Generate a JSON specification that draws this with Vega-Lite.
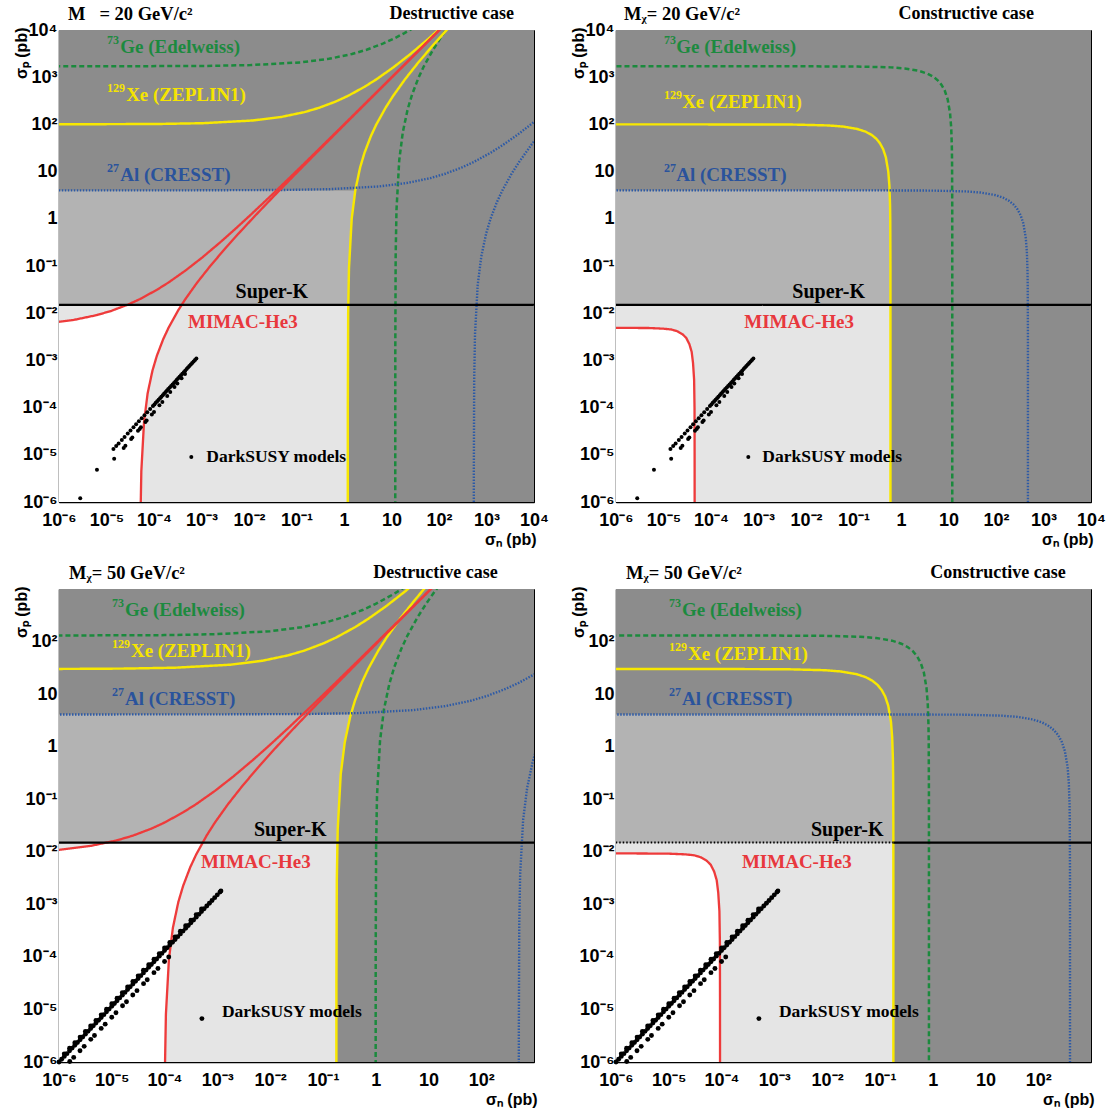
{
"$schema":"https://vega.github.io/schema/vega-lite/v6.json",
"padding":{"left":12,"top":4,"right":0,"bottom":0},
"background":"#ffffff",
"config":{"view":{"stroke":"#000000","strokeWidth":1},
"axis":{"domainColor":"#000000","domainWidth":1.5,"tickColor":"#000000","tickWidth":1,"labelFont":"Liberation Sans","labelFontWeight":"bold","labelFontSize":18,"labelColor":"#000000","titleFont":"Liberation Sans","titleFontWeight":"bold","titleFontSize":16,"titleColor":"#000000","grid":false,"labelOverlap":false,"labelFlush":false}},
"datasets":{
"shade":[
{"p":"TL","s":"dark","x":1e-6,"x2":1e4,"y":1e-6,"y2":1e4},
{"p":"TL","s":"light","x":1e-6,"x2":1.21,"y":1e-6,"y2":0.015},
{"p":"TR","s":"dark","x":1e-6,"x2":1e4,"y":1e-6,"y2":1e4},
{"p":"TR","s":"light","x":1e-6,"x2":0.6,"y":1e-6,"y2":0.015},
{"p":"BL","s":"dark","x":1e-6,"x2":1e3,"y":1e-6,"y2":1e3},
{"p":"BL","s":"light","x":1e-6,"x2":0.184,"y":1e-6,"y2":0.015},
{"p":"BR","s":"dark","x":1e-6,"x2":1e3,"y":1e-6,"y2":1e3},
{"p":"BR","s":"light","x":1e-6,"x2":0.18,"y":1e-6,"y2":0.015}],
"band":[
{"p":"TL","s":"mid","y":0.015,"x":1e-7,"x2":1.23},{"p":"TL","s":"mid","y":0.1,"x":1e-7,"x2":1.277},{"p":"TL","s":"mid","y":0.5,"x":1e-7,"x2":1.376},{"p":"TL","s":"mid","y":1,"x":1e-7,"x2":1.452},{"p":"TL","s":"mid","y":2,"x":1e-7,"x2":1.563},{"p":"TL","s":"mid","y":3,"x":1e-7,"x2":1.652},{"p":"TL","s":"mid","y":4,"x":1e-7,"x2":1.728},
{"p":"TL","s":"white","y":1e-7,"x":1e-7,"x2":5.146e-5},{"p":"TL","s":"white","y":1e-6,"x":1e-7,"x2":5.245e-5},{"p":"TL","s":"white","y":1e-5,"x":1e-7,"x2":5.566e-5},{"p":"TL","s":"white","y":5e-5,"x":1e-7,"x2":6.171e-5},{"p":"TL","s":"white","y":2e-4,"x":1e-7,"x2":7.344e-5},{"p":"TL","s":"white","y":6e-4,"x":1e-7,"x2":9.246e-5},{"p":"TL","s":"white","y":1.25e-3,"x":1e-7,"x2":1.1475e-4},{"p":"TL","s":"white","y":2.81e-3,"x":1e-7,"x2":1.562e-4},{"p":"TL","s":"white","y":5e-3,"x":1e-7,"x2":2.04e-4},{"p":"TL","s":"white","y":6e-3,"x":4.64e-7,"x2":2.239e-4},{"p":"TL","s":"white","y":7e-3,"x":1.71e-6,"x2":2.431e-4},{"p":"TL","s":"white","y":0.01,"x":8.75e-6,"x2":2.972e-4},{"p":"TL","s":"white","y":0.0125,"x":1.72e-5,"x2":3.398e-4},{"p":"TL","s":"white","y":0.015,"x":2.73e-5,"x2":3.807e-4},
{"p":"TR","s":"mid","y":0.015,"x":1e-7,"x2":0.5999},{"p":"TR","s":"mid","y":1,"x":1e-7,"x2":0.594},{"p":"TR","s":"mid","y":2,"x":1e-7,"x2":0.588},{"p":"TR","s":"mid","y":4,"x":1e-7,"x2":0.576},
{"p":"TR","s":"white","y":9.8e-8,"x":1e-7,"x2":4.53e-5},{"p":"TR","s":"white","y":9.8e-6,"x":1e-7,"x2":4.518e-5},{"p":"TR","s":"white","y":9.8e-5,"x":1e-7,"x2":4.5e-5},{"p":"TR","s":"white","y":3.9e-4,"x":1e-7,"x2":4.41e-5},{"p":"TR","s":"white","y":8.8e-4,"x":1e-7,"x2":4.185e-5},{"p":"TR","s":"white","y":1.52e-3,"x":1e-7,"x2":3.915e-5},{"p":"TR","s":"white","y":2.2e-3,"x":1e-7,"x2":3.51e-5},{"p":"TR","s":"white","y":2.99e-3,"x":1e-7,"x2":3.015e-5},{"p":"TR","s":"white","y":3.58e-3,"x":1e-7,"x2":2.52e-5},{"p":"TR","s":"white","y":4.12e-3,"x":1e-7,"x2":1.98e-5},{"p":"TR","s":"white","y":4.51e-3,"x":1e-7,"x2":1.485e-5},{"p":"TR","s":"white","y":4.7e-3,"x":1e-7,"x2":9.9e-6},{"p":"TR","s":"white","y":4.85e-3,"x":1e-7,"x2":4.95e-6},{"p":"TR","s":"white","y":4.9e-3,"x":1e-7,"x2":1e-6},
{"p":"BL","s":"mid","y":0.015,"x":1e-7,"x2":0.1881},{"p":"BL","s":"mid","y":0.1,"x":1e-7,"x2":0.2014},{"p":"BL","s":"mid","y":0.5,"x":1e-7,"x2":0.2295},{"p":"BL","s":"mid","y":1,"x":1e-7,"x2":0.2517},{"p":"BL","s":"mid","y":2,"x":1e-7,"x2":0.285},{"p":"BL","s":"mid","y":3,"x":1e-7,"x2":0.3119},{"p":"BL","s":"mid","y":4.1,"x":1e-7,"x2":0.3377},
{"p":"BL","s":"white","y":1e-7,"x":1e-7,"x2":1.0067e-4},{"p":"BL","s":"white","y":1e-6,"x":1e-7,"x2":1.0212e-4},{"p":"BL","s":"white","y":1e-5,"x":1e-7,"x2":1.0677e-4},{"p":"BL","s":"white","y":9e-5,"x":1e-7,"x2":1.21e-4},{"p":"BL","s":"white","y":3.6e-4,"x":1e-7,"x2":1.44e-4},{"p":"BL","s":"white","y":1.1e-3,"x":1e-7,"x2":1.8225e-4},{"p":"BL","s":"white","y":2.25e-3,"x":1e-7,"x2":2.25e-4},{"p":"BL","s":"white","y":5.06e-3,"x":1e-7,"x2":3.0625e-4},{"p":"BL","s":"white","y":9e-3,"x":1e-7,"x2":4e-4},{"p":"BL","s":"white","y":0.0105,"x":6.4e-7,"x2":4.327e-4},{"p":"BL","s":"white","y":0.012,"x":2.39e-6,"x2":4.643e-4},{"p":"BL","s":"white","y":0.0135,"x":5.05e-6,"x2":4.949e-4},{"p":"BL","s":"white","y":0.015,"x":8.47e-6,"x2":5.249e-4},
{"p":"BR","s":"mid","y":0.015,"x":1e-7,"x2":0.17991},{"p":"BR","s":"mid","y":1,"x":1e-7,"x2":0.174},{"p":"BR","s":"mid","y":2,"x":1e-7,"x2":0.168},{"p":"BR","s":"mid","y":4.1,"x":1e-7,"x2":0.1554},
{"p":"BR","s":"white","y":1.9e-7,"x":1e-7,"x2":9.37e-5},{"p":"BR","s":"white","y":1.9e-5,"x":1e-7,"x2":9.34e-5},{"p":"BR","s":"white","y":1.9e-4,"x":1e-7,"x2":9.3e-5},{"p":"BR","s":"white","y":7.4e-4,"x":1e-7,"x2":9.11e-5},{"p":"BR","s":"white","y":1.67e-3,"x":1e-7,"x2":8.65e-5},{"p":"BR","s":"white","y":2.88e-3,"x":1e-7,"x2":8.09e-5},{"p":"BR","s":"white","y":4.19e-3,"x":1e-7,"x2":7.25e-5},{"p":"BR","s":"white","y":5.67e-3,"x":1e-7,"x2":6.23e-5},{"p":"BR","s":"white","y":6.79e-3,"x":1e-7,"x2":5.2e-5},{"p":"BR","s":"white","y":7.81e-3,"x":1e-7,"x2":4.09e-5},{"p":"BR","s":"white","y":8.56e-3,"x":1e-7,"x2":3.07e-5},{"p":"BR","s":"white","y":8.93e-3,"x":1e-7,"x2":2.05e-5},{"p":"BR","s":"white","y":9.2e-3,"x":1e-7,"x2":1.02e-5},{"p":"BR","s":"white","y":9.3e-3,"x":1e-7,"x2":2e-6}],
"curve":[
{"p":"TL","c":"ge","b":"u","x":1.2e-7,"y":1700},{"p":"TL","c":"ge","b":"u","x":1.2e-5,"y":1703},{"p":"TL","c":"ge","b":"u","x":1.2e-3,"y":1734},{"p":"TL","c":"ge","b":"u","x":0.0108,"y":1804},{"p":"TL","c":"ge","b":"u","x":0.12,"y":2057},{"p":"TL","c":"ge","b":"u","x":0.48,"y":2448},{"p":"TL","c":"ge","b":"u","x":1.47,"y":3098},{"p":"TL","c":"ge","b":"u","x":3,"y":3825},{"p":"TL","c":"ge","b":"u","x":6.75,"y":5206},{"p":"TL","c":"ge","b":"u","x":12,"y":6800},{"p":"TL","c":"ge","b":"u","x":18.75,"y":8606},{"p":"TL","c":"ge","b":"u","x":27,"y":10625},
{"p":"TL","c":"ge","b":"r","x":12.0002,"y":1.7e-7},{"p":"TL","c":"ge","b":"r","x":12.0024,"y":1.7e-5},{"p":"TL","c":"ge","b":"r","x":12.024,"y":1.7e-3},{"p":"TL","c":"ge","b":"r","x":12.24,"y":0.17},{"p":"TL","c":"ge","b":"r","x":12.73,"y":1.53},{"p":"TL","c":"ge","b":"r","x":14.52,"y":17},{"p":"TL","c":"ge","b":"r","x":17.28,"y":68},{"p":"TL","c":"ge","b":"r","x":21.87,"y":208},{"p":"TL","c":"ge","b":"r","x":27,"y":425},{"p":"TL","c":"ge","b":"r","x":36.75,"y":956},{"p":"TL","c":"ge","b":"r","x":48,"y":1700},{"p":"TL","c":"ge","b":"r","x":75,"y":3825},{"p":"TL","c":"ge","b":"r","x":108,"y":6800},{"p":"TL","c":"ge","b":"r","x":147,"y":10625},
{"p":"TL","c":"xe","b":"u","x":3e-7,"y":100.1},{"p":"TL","c":"xe","b":"u","x":1.2e-4,"y":102},{"p":"TL","c":"xe","b":"u","x":1.08e-3,"y":106.1},{"p":"TL","c":"xe","b":"u","x":0.012,"y":121},{"p":"TL","c":"xe","b":"u","x":0.048,"y":144},{"p":"TL","c":"xe","b":"u","x":0.147,"y":182},{"p":"TL","c":"xe","b":"u","x":0.3,"y":225},{"p":"TL","c":"xe","b":"u","x":0.675,"y":306},{"p":"TL","c":"xe","b":"u","x":1.2,"y":400},{"p":"TL","c":"xe","b":"u","x":2.7,"y":625},{"p":"TL","c":"xe","b":"u","x":4.8,"y":900},{"p":"TL","c":"xe","b":"u","x":10.8,"y":1600},{"p":"TL","c":"xe","b":"u","x":24.3,"y":3025},{"p":"TL","c":"xe","b":"u","x":58.8,"y":6400},{"p":"TL","c":"xe","b":"u","x":120,"y":12100},
{"p":"TL","c":"xe","b":"r","x":1.20007,"y":9e-8},{"p":"TL","c":"xe","b":"r","x":1.2024,"y":1e-4},{"p":"TL","c":"xe","b":"r","x":1.2241,"y":0.01},{"p":"TL","c":"xe","b":"r","x":1.2731,"y":0.09},{"p":"TL","c":"xe","b":"r","x":1.452,"y":1},{"p":"TL","c":"xe","b":"r","x":1.728,"y":4},{"p":"TL","c":"xe","b":"r","x":2.187,"y":12.25},{"p":"TL","c":"xe","b":"r","x":2.7,"y":25},{"p":"TL","c":"xe","b":"r","x":3.675,"y":56.25},{"p":"TL","c":"xe","b":"r","x":4.8,"y":100},{"p":"TL","c":"xe","b":"r","x":7.5,"y":225},{"p":"TL","c":"xe","b":"r","x":10.8,"y":400},{"p":"TL","c":"xe","b":"r","x":19.2,"y":900},{"p":"TL","c":"xe","b":"r","x":36.3,"y":2025},{"p":"TL","c":"xe","b":"r","x":76.8,"y":4900},{"p":"TL","c":"xe","b":"r","x":145.2,"y":10000},{"p":"TL","c":"xe","b":"r","x":202.8,"y":14400},
{"p":"TL","c":"al","b":"u","x":5.4e-8,"y":4},{"p":"TL","c":"al","b":"u","x":5.4e-4,"y":4.008},{"p":"TL","c":"al","b":"u","x":0.054,"y":4.08},{"p":"TL","c":"al","b":"u","x":0.486,"y":4.24},{"p":"TL","c":"al","b":"u","x":5.4,"y":4.84},{"p":"TL","c":"al","b":"u","x":21.6,"y":5.76},{"p":"TL","c":"al","b":"u","x":66.2,"y":7.29},{"p":"TL","c":"al","b":"u","x":135,"y":9},{"p":"TL","c":"al","b":"u","x":304,"y":12.25},{"p":"TL","c":"al","b":"u","x":540,"y":16},{"p":"TL","c":"al","b":"u","x":1215,"y":25},{"p":"TL","c":"al","b":"u","x":2160,"y":36},{"p":"TL","c":"al","b":"u","x":4860,"y":64},{"p":"TL","c":"al","b":"u","x":10935,"y":121},
{"p":"TL","c":"al","b":"r","x":540.1,"y":4e-8},{"p":"TL","c":"al","b":"r","x":541.08,"y":4e-6},{"p":"TL","c":"al","b":"r","x":550.85,"y":4e-4},{"p":"TL","c":"al","b":"r","x":572.9,"y":3.6e-3},{"p":"TL","c":"al","b":"r","x":653.4,"y":0.04},{"p":"TL","c":"al","b":"r","x":777.6,"y":0.16},{"p":"TL","c":"al","b":"r","x":984.2,"y":0.49},{"p":"TL","c":"al","b":"r","x":1215,"y":1},{"p":"TL","c":"al","b":"r","x":1653.8,"y":2.25},{"p":"TL","c":"al","b":"r","x":2160,"y":4},{"p":"TL","c":"al","b":"r","x":3375,"y":9},{"p":"TL","c":"al","b":"r","x":4860,"y":16},{"p":"TL","c":"al","b":"r","x":8640,"y":36},{"p":"TL","c":"al","b":"r","x":10935,"y":49},
{"p":"TL","c":"he","b":"u","x":5.1e-9,"y":0.0051},{"p":"TL","c":"he","b":"u","x":5.1e-7,"y":0.00605},{"p":"TL","c":"he","b":"u","x":2.04e-6,"y":0.0072},{"p":"TL","c":"he","b":"u","x":6.25e-6,"y":0.00911},{"p":"TL","c":"he","b":"u","x":1.275e-5,"y":0.01125},{"p":"TL","c":"he","b":"u","x":2.87e-5,"y":0.0153},{"p":"TL","c":"he","b":"u","x":5.1e-5,"y":0.02},{"p":"TL","c":"he","b":"u","x":1.1475e-4,"y":0.03125},{"p":"TL","c":"he","b":"u","x":2.04e-4,"y":0.045},{"p":"TL","c":"he","b":"u","x":4.59e-4,"y":0.08},{"p":"TL","c":"he","b":"u","x":1.033e-3,"y":0.151},{"p":"TL","c":"he","b":"u","x":2.5e-3,"y":0.32},{"p":"TL","c":"he","b":"u","x":5.1e-3,"y":0.605},{"p":"TL","c":"he","b":"u","x":0.011475,"y":1.28},{"p":"TL","c":"he","b":"u","x":0.031875,"y":3.38},{"p":"TL","c":"he","b":"u","x":0.0816,"y":8.4},{"p":"TL","c":"he","b":"u","x":0.2499,"y":25.2},{"p":"TL","c":"he","b":"u","x":0.7344,"y":73.2},{"p":"TL","c":"he","b":"u","x":2.04,"y":202},{"p":"TL","c":"he","b":"u","x":6.2475,"y":616},{"p":"TL","c":"he","b":"u","x":18.36,"y":1806},{"p":"TL","c":"he","b":"u","x":51,"y":5010},{"p":"TL","c":"he","b":"u","x":114.75,"y":11275},
{"p":"TL","c":"he","b":"r","x":5.11e-5,"y":5e-9},{"p":"TL","c":"he","b":"r","x":5.2e-5,"y":5e-7},{"p":"TL","c":"he","b":"r","x":5.41e-5,"y":4.5e-6},{"p":"TL","c":"he","b":"r","x":6.17e-5,"y":5e-5},{"p":"TL","c":"he","b":"r","x":7.34e-5,"y":2e-4},{"p":"TL","c":"he","b":"r","x":9.29e-5,"y":6.1e-4},{"p":"TL","c":"he","b":"r","x":1.1475e-4,"y":1.25e-3},{"p":"TL","c":"he","b":"r","x":1.562e-4,"y":2.81e-3},{"p":"TL","c":"he","b":"r","x":2.04e-4,"y":5e-3},{"p":"TL","c":"he","b":"r","x":3.19e-4,"y":0.01125},{"p":"TL","c":"he","b":"r","x":4.59e-4,"y":0.02},{"p":"TL","c":"he","b":"r","x":8.16e-4,"y":0.045},{"p":"TL","c":"he","b":"r","x":1.543e-3,"y":0.101},{"p":"TL","c":"he","b":"r","x":3.264e-3,"y":0.245},{"p":"TL","c":"he","b":"r","x":6.171e-3,"y":0.5},{"p":"TL","c":"he","b":"r","x":0.013056,"y":1.125},{"p":"TL","c":"he","b":"r","x":0.034476,"y":3.125},{"p":"TL","c":"he","b":"r","x":0.085731,"y":8},{"p":"TL","c":"he","b":"r","x":0.25709,"y":24.5},{"p":"TL","c":"he","b":"r","x":0.74669,"y":72},{"p":"TL","c":"he","b":"r","x":2.0604,"y":200},{"p":"TL","c":"he","b":"r","x":6.283,"y":612.5},{"p":"TL","c":"he","b":"r","x":18.42,"y":1800},{"p":"TL","c":"he","b":"r","x":51.1,"y":5000},{"p":"TL","c":"he","b":"r","x":114.9,"y":11250},
{"p":"TL","c":"sk","b":"s","x":1e-7,"y":0.015},{"p":"TL","c":"sk","b":"s","x":1e5,"y":0.015},
{"p":"TR","c":"ge","b":"c","x":1e-7,"y":1700},{"p":"TR","c":"ge","b":"c","x":1.2e-3,"y":1699.8},{"p":"TR","c":"ge","b":"c","x":0.012,"y":1698.3},{"p":"TR","c":"ge","b":"c","x":0.12,"y":1683},{"p":"TR","c":"ge","b":"c","x":0.6,"y":1615},{"p":"TR","c":"ge","b":"c","x":1.2,"y":1530},{"p":"TR","c":"ge","b":"c","x":2.4,"y":1360},{"p":"TR","c":"ge","b":"c","x":3.6,"y":1190},{"p":"TR","c":"ge","b":"c","x":4.8,"y":1020},{"p":"TR","c":"ge","b":"c","x":6,"y":850},{"p":"TR","c":"ge","b":"c","x":7.2,"y":680},{"p":"TR","c":"ge","b":"c","x":8.4,"y":510},{"p":"TR","c":"ge","b":"c","x":9.6,"y":340},{"p":"TR","c":"ge","b":"c","x":10.8,"y":170},{"p":"TR","c":"ge","b":"c","x":11.4,"y":85},{"p":"TR","c":"ge","b":"c","x":11.76,"y":34},{"p":"TR","c":"ge","b":"c","x":11.88,"y":17},{"p":"TR","c":"ge","b":"c","x":11.988,"y":1.7},{"p":"TR","c":"ge","b":"c","x":11.9988,"y":0.17},{"p":"TR","c":"ge","b":"c","x":12,"y":1e-8},
{"p":"TR","c":"xe","b":"c","x":1e-7,"y":100},{"p":"TR","c":"xe","b":"c","x":6e-5,"y":99.99},{"p":"TR","c":"xe","b":"c","x":6e-4,"y":99.9},{"p":"TR","c":"xe","b":"c","x":6e-3,"y":99},{"p":"TR","c":"xe","b":"c","x":0.03,"y":95},{"p":"TR","c":"xe","b":"c","x":0.06,"y":90},{"p":"TR","c":"xe","b":"c","x":0.12,"y":80},{"p":"TR","c":"xe","b":"c","x":0.18,"y":70},{"p":"TR","c":"xe","b":"c","x":0.24,"y":60},{"p":"TR","c":"xe","b":"c","x":0.3,"y":50},{"p":"TR","c":"xe","b":"c","x":0.36,"y":40},{"p":"TR","c":"xe","b":"c","x":0.42,"y":30},{"p":"TR","c":"xe","b":"c","x":0.48,"y":20},{"p":"TR","c":"xe","b":"c","x":0.54,"y":10},{"p":"TR","c":"xe","b":"c","x":0.57,"y":5},{"p":"TR","c":"xe","b":"c","x":0.588,"y":2},{"p":"TR","c":"xe","b":"c","x":0.594,"y":1},{"p":"TR","c":"xe","b":"c","x":0.5994,"y":0.1},{"p":"TR","c":"xe","b":"c","x":0.59994,"y":0.01},{"p":"TR","c":"xe","b":"c","x":0.6,"y":1e-8},
{"p":"TR","c":"al","b":"c","x":1e-7,"y":4},{"p":"TR","c":"al","b":"c","x":0.047,"y":3.9996},{"p":"TR","c":"al","b":"c","x":0.47,"y":3.996},{"p":"TR","c":"al","b":"c","x":4.7,"y":3.96},{"p":"TR","c":"al","b":"c","x":23.5,"y":3.8},{"p":"TR","c":"al","b":"c","x":47,"y":3.6},{"p":"TR","c":"al","b":"c","x":94,"y":3.2},{"p":"TR","c":"al","b":"c","x":141,"y":2.8},{"p":"TR","c":"al","b":"c","x":188,"y":2.4},{"p":"TR","c":"al","b":"c","x":235,"y":2},{"p":"TR","c":"al","b":"c","x":282,"y":1.6},{"p":"TR","c":"al","b":"c","x":329,"y":1.2},{"p":"TR","c":"al","b":"c","x":376,"y":0.8},{"p":"TR","c":"al","b":"c","x":423,"y":0.4},{"p":"TR","c":"al","b":"c","x":446.5,"y":0.2},{"p":"TR","c":"al","b":"c","x":460.6,"y":0.08},{"p":"TR","c":"al","b":"c","x":465.3,"y":0.04},{"p":"TR","c":"al","b":"c","x":469.53,"y":4e-3},{"p":"TR","c":"al","b":"c","x":469.953,"y":4e-4},{"p":"TR","c":"al","b":"c","x":470,"y":1e-8},
{"p":"TR","c":"he","b":"c","x":1e-7,"y":0.0049},{"p":"TR","c":"he","b":"c","x":1e-6,"y":0.0049},{"p":"TR","c":"he","b":"c","x":4.95e-6,"y":0.00485},{"p":"TR","c":"he","b":"c","x":9.9e-6,"y":0.0047},{"p":"TR","c":"he","b":"c","x":1.485e-5,"y":0.00451},{"p":"TR","c":"he","b":"c","x":1.98e-5,"y":0.00412},{"p":"TR","c":"he","b":"c","x":2.52e-5,"y":0.00358},{"p":"TR","c":"he","b":"c","x":3.015e-5,"y":0.00299},{"p":"TR","c":"he","b":"c","x":3.51e-5,"y":0.0022},{"p":"TR","c":"he","b":"c","x":3.915e-5,"y":0.00152},{"p":"TR","c":"he","b":"c","x":4.185e-5,"y":8.8e-4},{"p":"TR","c":"he","b":"c","x":4.41e-5,"y":3.9e-4},{"p":"TR","c":"he","b":"c","x":4.5e-5,"y":9.8e-5},{"p":"TR","c":"he","b":"c","x":4.518e-5,"y":9.8e-6},{"p":"TR","c":"he","b":"c","x":4.53e-5,"y":9.8e-8},
{"p":"TR","c":"sk","b":"s","x":1e-7,"y":0.015},{"p":"TR","c":"sk","b":"s","x":1e5,"y":0.015},
{"p":"BL","c":"ge","b":"u","x":1e-8,"y":130.03},{"p":"BL","c":"ge","b":"u","x":1e-6,"y":130.26},{"p":"BL","c":"ge","b":"u","x":1e-4,"y":132.6},{"p":"BL","c":"ge","b":"u","x":9e-4,"y":137.9},{"p":"BL","c":"ge","b":"u","x":0.01,"y":157.3},{"p":"BL","c":"ge","b":"u","x":0.04,"y":187.2},{"p":"BL","c":"ge","b":"u","x":0.1225,"y":236.9},{"p":"BL","c":"ge","b":"u","x":0.25,"y":292.5},{"p":"BL","c":"ge","b":"u","x":0.5625,"y":398.1},{"p":"BL","c":"ge","b":"u","x":1,"y":520},{"p":"BL","c":"ge","b":"u","x":2.25,"y":812.5},{"p":"BL","c":"ge","b":"u","x":4,"y":1170},
{"p":"BL","c":"ge","b":"r","x":1.00002,"y":1.3e-8},{"p":"BL","c":"ge","b":"r","x":1.0002,"y":1.3e-6},{"p":"BL","c":"ge","b":"r","x":1.002,"y":1.3e-4},{"p":"BL","c":"ge","b":"r","x":1.0201,"y":0.013},{"p":"BL","c":"ge","b":"r","x":1.0609,"y":0.117},{"p":"BL","c":"ge","b":"r","x":1.21,"y":1.3},{"p":"BL","c":"ge","b":"r","x":1.44,"y":5.2},{"p":"BL","c":"ge","b":"r","x":1.8225,"y":15.9},{"p":"BL","c":"ge","b":"r","x":2.25,"y":32.5},{"p":"BL","c":"ge","b":"r","x":3.0625,"y":73.1},{"p":"BL","c":"ge","b":"r","x":4,"y":130},{"p":"BL","c":"ge","b":"r","x":6.25,"y":292.5},{"p":"BL","c":"ge","b":"r","x":9,"y":520},{"p":"BL","c":"ge","b":"r","x":12.25,"y":812.5},{"p":"BL","c":"ge","b":"r","x":16,"y":1170},
{"p":"BL","c":"xe","b":"u","x":1.8e-9,"y":30.006},{"p":"BL","c":"xe","b":"u","x":1.62e-6,"y":30.18},{"p":"BL","c":"xe","b":"u","x":1.8e-5,"y":30.6},{"p":"BL","c":"xe","b":"u","x":1.62e-4,"y":31.83},{"p":"BL","c":"xe","b":"u","x":1.8e-3,"y":36.3},{"p":"BL","c":"xe","b":"u","x":7.2e-3,"y":43.2},{"p":"BL","c":"xe","b":"u","x":0.02205,"y":54.7},{"p":"BL","c":"xe","b":"u","x":0.045,"y":67.5},{"p":"BL","c":"xe","b":"u","x":0.10125,"y":91.9},{"p":"BL","c":"xe","b":"u","x":0.18,"y":120},{"p":"BL","c":"xe","b":"u","x":0.405,"y":187.5},{"p":"BL","c":"xe","b":"u","x":0.72,"y":270},{"p":"BL","c":"xe","b":"u","x":1.62,"y":480},{"p":"BL","c":"xe","b":"u","x":3.645,"y":907.5},{"p":"BL","c":"xe","b":"u","x":4.5,"y":1080},
{"p":"BL","c":"xe","b":"r","x":0.180004,"y":3e-9},{"p":"BL","c":"xe","b":"r","x":0.180036,"y":3e-7},{"p":"BL","c":"xe","b":"r","x":0.18036,"y":3e-5},{"p":"BL","c":"xe","b":"r","x":0.18362,"y":3e-3},{"p":"BL","c":"xe","b":"r","x":0.19096,"y":0.027},{"p":"BL","c":"xe","b":"r","x":0.2178,"y":0.3},{"p":"BL","c":"xe","b":"r","x":0.2592,"y":1.2},{"p":"BL","c":"xe","b":"r","x":0.32805,"y":3.675},{"p":"BL","c":"xe","b":"r","x":0.405,"y":7.5},{"p":"BL","c":"xe","b":"r","x":0.55125,"y":16.9},{"p":"BL","c":"xe","b":"r","x":0.72,"y":30},{"p":"BL","c":"xe","b":"r","x":1.125,"y":67.5},{"p":"BL","c":"xe","b":"r","x":1.62,"y":120},{"p":"BL","c":"xe","b":"r","x":2.88,"y":270},{"p":"BL","c":"xe","b":"r","x":5.445,"y":607.5},{"p":"BL","c":"xe","b":"r","x":8.82,"y":1080},
{"p":"BL","c":"al","b":"u","x":5.15e-8,"y":4.1},{"p":"BL","c":"al","b":"u","x":5.15e-4,"y":4.108},{"p":"BL","c":"al","b":"u","x":0.0515,"y":4.182},{"p":"BL","c":"al","b":"u","x":0.4635,"y":4.35},{"p":"BL","c":"al","b":"u","x":5.15,"y":4.961},{"p":"BL","c":"al","b":"u","x":20.6,"y":5.904},{"p":"BL","c":"al","b":"u","x":63.1,"y":7.47},{"p":"BL","c":"al","b":"u","x":128.75,"y":9.225},{"p":"BL","c":"al","b":"u","x":289.7,"y":12.56},{"p":"BL","c":"al","b":"u","x":515,"y":16.4},{"p":"BL","c":"al","b":"u","x":1158.75,"y":25.6},
{"p":"BL","c":"al","b":"r","x":515.1,"y":4.1e-8},{"p":"BL","c":"al","b":"r","x":516.03,"y":4.1e-6},{"p":"BL","c":"al","b":"r","x":525.35,"y":4.1e-4},{"p":"BL","c":"al","b":"r","x":546.4,"y":3.69e-3},{"p":"BL","c":"al","b":"r","x":623.2,"y":0.041},{"p":"BL","c":"al","b":"r","x":741.6,"y":0.164},{"p":"BL","c":"al","b":"r","x":938.6,"y":0.502},{"p":"BL","c":"al","b":"r","x":1158.75,"y":1.025},
{"p":"BL","c":"he","b":"u","x":1e-8,"y":0.00918},{"p":"BL","c":"he","b":"u","x":1e-6,"y":0.01089},{"p":"BL","c":"he","b":"u","x":4e-6,"y":0.01296},{"p":"BL","c":"he","b":"u","x":1.225e-5,"y":0.0164},{"p":"BL","c":"he","b":"u","x":2.5e-5,"y":0.02025},{"p":"BL","c":"he","b":"u","x":5.625e-5,"y":0.02756},{"p":"BL","c":"he","b":"u","x":1e-4,"y":0.036},{"p":"BL","c":"he","b":"u","x":2.25e-4,"y":0.05625},{"p":"BL","c":"he","b":"u","x":4e-4,"y":0.081},{"p":"BL","c":"he","b":"u","x":9e-4,"y":0.144},{"p":"BL","c":"he","b":"u","x":2.025e-3,"y":0.2723},{"p":"BL","c":"he","b":"u","x":4.9e-3,"y":0.576},{"p":"BL","c":"he","b":"u","x":0.01,"y":1.089},{"p":"BL","c":"he","b":"u","x":0.0225,"y":2.304},{"p":"BL","c":"he","b":"u","x":0.0625,"y":6.084},{"p":"BL","c":"he","b":"u","x":0.16,"y":15.13},{"p":"BL","c":"he","b":"u","x":0.49,"y":45.37},{"p":"BL","c":"he","b":"u","x":1.44,"y":131.8},{"p":"BL","c":"he","b":"u","x":4,"y":363.6},{"p":"BL","c":"he","b":"u","x":9,"y":814.5},{"p":"BL","c":"he","b":"u","x":12.25,"y":1109},
{"p":"BL","c":"he","b":"r","x":1.002e-4,"y":9e-9},{"p":"BL","c":"he","b":"r","x":1.0201e-4,"y":9e-7},{"p":"BL","c":"he","b":"r","x":1.0609e-4,"y":8.1e-6},{"p":"BL","c":"he","b":"r","x":1.21e-4,"y":9e-5},{"p":"BL","c":"he","b":"r","x":1.44e-4,"y":3.6e-4},{"p":"BL","c":"he","b":"r","x":1.8225e-4,"y":1.1025e-3},{"p":"BL","c":"he","b":"r","x":2.25e-4,"y":2.25e-3},{"p":"BL","c":"he","b":"r","x":3.0625e-4,"y":5.0625e-3},{"p":"BL","c":"he","b":"r","x":4e-4,"y":0.009},{"p":"BL","c":"he","b":"r","x":6.25e-4,"y":0.02025},{"p":"BL","c":"he","b":"r","x":9e-4,"y":0.036},{"p":"BL","c":"he","b":"r","x":1.6e-3,"y":0.081},{"p":"BL","c":"he","b":"r","x":3.025e-3,"y":0.18225},{"p":"BL","c":"he","b":"r","x":6.4e-3,"y":0.441},{"p":"BL","c":"he","b":"r","x":0.0121,"y":0.9},{"p":"BL","c":"he","b":"r","x":0.0256,"y":2.025},{"p":"BL","c":"he","b":"r","x":0.0676,"y":5.625},{"p":"BL","c":"he","b":"r","x":0.1681,"y":14.4},{"p":"BL","c":"he","b":"r","x":0.5041,"y":44.1},{"p":"BL","c":"he","b":"r","x":1.4641,"y":129.6},{"p":"BL","c":"he","b":"r","x":4.0401,"y":360},{"p":"BL","c":"he","b":"r","x":9.0601,"y":810},{"p":"BL","c":"he","b":"r","x":12.3201,"y":1102.5},
{"p":"BL","c":"sk","b":"s","x":1e-7,"y":0.015},{"p":"BL","c":"sk","b":"s","x":1e5,"y":0.015},
{"p":"BR","c":"ge","b":"c","x":1e-7,"y":130},{"p":"BR","c":"ge","b":"c","x":8.5e-5,"y":129.99},{"p":"BR","c":"ge","b":"c","x":8.5e-4,"y":129.87},{"p":"BR","c":"ge","b":"c","x":8.5e-3,"y":128.7},{"p":"BR","c":"ge","b":"c","x":0.0425,"y":123.5},{"p":"BR","c":"ge","b":"c","x":0.085,"y":117},{"p":"BR","c":"ge","b":"c","x":0.17,"y":104},{"p":"BR","c":"ge","b":"c","x":0.255,"y":91},{"p":"BR","c":"ge","b":"c","x":0.34,"y":78},{"p":"BR","c":"ge","b":"c","x":0.425,"y":65},{"p":"BR","c":"ge","b":"c","x":0.51,"y":52},{"p":"BR","c":"ge","b":"c","x":0.595,"y":39},{"p":"BR","c":"ge","b":"c","x":0.68,"y":26},{"p":"BR","c":"ge","b":"c","x":0.765,"y":13},{"p":"BR","c":"ge","b":"c","x":0.8075,"y":6.5},{"p":"BR","c":"ge","b":"c","x":0.833,"y":2.6},{"p":"BR","c":"ge","b":"c","x":0.8415,"y":1.3},{"p":"BR","c":"ge","b":"c","x":0.84915,"y":0.13},{"p":"BR","c":"ge","b":"c","x":0.849915,"y":0.013},{"p":"BR","c":"ge","b":"c","x":0.85,"y":1e-8},
{"p":"BR","c":"xe","b":"c","x":1e-7,"y":30},{"p":"BR","c":"xe","b":"c","x":1.8e-5,"y":29.997},{"p":"BR","c":"xe","b":"c","x":1.8e-4,"y":29.97},{"p":"BR","c":"xe","b":"c","x":1.8e-3,"y":29.7},{"p":"BR","c":"xe","b":"c","x":9e-3,"y":28.5},{"p":"BR","c":"xe","b":"c","x":0.018,"y":27},{"p":"BR","c":"xe","b":"c","x":0.036,"y":24},{"p":"BR","c":"xe","b":"c","x":0.054,"y":21},{"p":"BR","c":"xe","b":"c","x":0.072,"y":18},{"p":"BR","c":"xe","b":"c","x":0.09,"y":15},{"p":"BR","c":"xe","b":"c","x":0.108,"y":12},{"p":"BR","c":"xe","b":"c","x":0.126,"y":9},{"p":"BR","c":"xe","b":"c","x":0.144,"y":6},{"p":"BR","c":"xe","b":"c","x":0.162,"y":3},{"p":"BR","c":"xe","b":"c","x":0.171,"y":1.5},{"p":"BR","c":"xe","b":"c","x":0.1764,"y":0.6},{"p":"BR","c":"xe","b":"c","x":0.1782,"y":0.3},{"p":"BR","c":"xe","b":"c","x":0.17982,"y":0.03},{"p":"BR","c":"xe","b":"c","x":0.179982,"y":3e-3},{"p":"BR","c":"xe","b":"c","x":0.18,"y":1e-8},
{"p":"BR","c":"al","b":"c","x":1e-7,"y":4.1},{"p":"BR","c":"al","b":"c","x":0.04,"y":4.0996},{"p":"BR","c":"al","b":"c","x":0.4,"y":4.0959},{"p":"BR","c":"al","b":"c","x":4,"y":4.059},{"p":"BR","c":"al","b":"c","x":20,"y":3.895},{"p":"BR","c":"al","b":"c","x":40,"y":3.69},{"p":"BR","c":"al","b":"c","x":80,"y":3.28},{"p":"BR","c":"al","b":"c","x":120,"y":2.87},{"p":"BR","c":"al","b":"c","x":160,"y":2.46},{"p":"BR","c":"al","b":"c","x":200,"y":2.05},{"p":"BR","c":"al","b":"c","x":240,"y":1.64},{"p":"BR","c":"al","b":"c","x":280,"y":1.23},{"p":"BR","c":"al","b":"c","x":320,"y":0.82},{"p":"BR","c":"al","b":"c","x":360,"y":0.41},{"p":"BR","c":"al","b":"c","x":380,"y":0.205},{"p":"BR","c":"al","b":"c","x":392,"y":0.082},{"p":"BR","c":"al","b":"c","x":396,"y":0.041},{"p":"BR","c":"al","b":"c","x":399.6,"y":4.1e-3},{"p":"BR","c":"al","b":"c","x":399.96,"y":4.1e-4},{"p":"BR","c":"al","b":"c","x":400,"y":1e-8},
{"p":"BR","c":"he","b":"c","x":2e-7,"y":0.0093},{"p":"BR","c":"he","b":"c","x":2e-6,"y":0.0093},{"p":"BR","c":"he","b":"c","x":1.02e-5,"y":0.0092},{"p":"BR","c":"he","b":"c","x":2.05e-5,"y":0.00893},{"p":"BR","c":"he","b":"c","x":3.07e-5,"y":0.00856},{"p":"BR","c":"he","b":"c","x":4.09e-5,"y":0.00781},{"p":"BR","c":"he","b":"c","x":5.2e-5,"y":0.00679},{"p":"BR","c":"he","b":"c","x":6.23e-5,"y":0.00567},{"p":"BR","c":"he","b":"c","x":7.25e-5,"y":0.00419},{"p":"BR","c":"he","b":"c","x":8.09e-5,"y":0.00288},{"p":"BR","c":"he","b":"c","x":8.65e-5,"y":0.00167},{"p":"BR","c":"he","b":"c","x":9.11e-5,"y":7.4e-4},{"p":"BR","c":"he","b":"c","x":9.3e-5,"y":1.9e-4},{"p":"BR","c":"he","b":"c","x":9.34e-5,"y":1.9e-5},{"p":"BR","c":"he","b":"c","x":9.37e-5,"y":1.9e-7},
{"p":"BR","c":"skd","b":"d","x":1e-7,"y":0.015},{"p":"BR","c":"skd","b":"d","x":0.18,"y":0.015},
{"p":"BR","c":"sk","b":"s","x":0.18,"y":0.015},{"p":"BR","c":"sk","b":"s","x":1e5,"y":0.015}],
"pts":[
{"g":"20","x":1.4e-5,"y":1.32e-5},{"g":"20","x":1.6e-5,"y":1.53e-5},{"g":"20","x":1.8e-5,"y":1.74e-5},{"g":"20","x":2.1e-5,"y":2.06e-5},{"g":"20","x":2.4e-5,"y":2.39e-5},{"g":"20","x":2.8e-5,"y":2.83e-5},{"g":"20","x":3.2e-5,"y":3.28e-5},{"g":"20","x":3.7e-5,"y":3.85e-5},{"g":"20","x":4.2e-5,"y":4.42e-5},{"g":"20","x":4.8e-5,"y":5.12e-5},{"g":"20","x":5.5e-5,"y":5.95e-5},{"g":"20","x":6.3e-5,"y":6.91e-5},{"g":"20","x":7.2e-5,"y":8.0e-5},{"g":"20","x":8.3e-5,"y":9.36e-5},{"g":"20","x":9.5e-5,"y":1.085e-4},{"g":"20","x":1.02e-4,"y":1.17e-4},{"g":"20","x":1.09e-4,"y":1.262e-4},{"g":"20","x":1.17e-4,"y":1.36e-4},{"g":"20","x":1.25e-4,"y":1.468e-4},{"g":"20","x":1.34e-4,"y":1.58e-4},{"g":"20","x":1.43e-4,"y":1.702e-4},{"g":"20","x":1.53e-4,"y":1.83e-4},{"g":"20","x":1.64e-4,"y":1.98e-4},{"g":"20","x":1.76e-4,"y":2.14e-4},{"g":"20","x":1.88e-4,"y":2.3e-4},{"g":"20","x":2.0e-4,"y":2.47e-4},{"g":"20","x":2.15e-4,"y":2.67e-4},{"g":"20","x":2.3e-4,"y":2.88e-4},{"g":"20","x":2.46e-4,"y":3.09e-4},{"g":"20","x":2.64e-4,"y":3.34e-4},{"g":"20","x":2.82e-4,"y":3.59e-4},{"g":"20","x":3.02e-4,"y":3.87e-4},{"g":"20","x":3.23e-4,"y":4.17e-4},{"g":"20","x":3.46e-4,"y":4.5e-4},{"g":"20","x":3.7e-4,"y":4.84e-4},{"g":"20","x":3.96e-4,"y":5.21e-4},{"g":"20","x":4.24e-4,"y":5.62e-4},{"g":"20","x":4.54e-4,"y":6.05e-4},{"g":"20","x":4.86e-4,"y":6.54e-4},{"g":"20","x":5.2e-4,"y":7.04e-4},{"g":"20","x":5.56e-4,"y":7.58e-4},{"g":"20","x":5.96e-4,"y":8.17e-4},{"g":"20","x":6.37e-4,"y":8.8e-4},{"g":"20","x":6.82e-4,"y":9.5e-4},{"g":"20","x":7.3e-4,"y":1.023e-3},{"g":"20","x":7.8e-4,"y":1.1e-3},
{"g":"20","x":1.45e-5,"y":8.2e-6},{"g":"20","x":2.3e-5,"y":1.4e-5},{"g":"20","x":2.5e-5,"y":1.55e-5},{"g":"20","x":3.3e-5,"y":2.17e-5},{"g":"20","x":3.5e-5,"y":2.32e-5},{"g":"20","x":4.6e-5,"y":3.23e-5},{"g":"20","x":5.0e-5,"y":3.54e-5},{"g":"20","x":5.3e-5,"y":3.83e-5},{"g":"20","x":6.6e-5,"y":4.93e-5},{"g":"20","x":7e-5,"y":5.33e-5},{"g":"20","x":9e-5,"y":7.14e-5},{"g":"20","x":1.0e-4,"y":8.1e-5},{"g":"20","x":1.3e-4,"y":1.12e-4},{"g":"20","x":1.5e-4,"y":1.32e-4},{"g":"20","x":1.9e-4,"y":1.77e-4},{"g":"20","x":2.2e-4,"y":2.14e-4},{"g":"20","x":2.7e-4,"y":2.74e-4},{"g":"20","x":3.1e-4,"y":3.25e-4},{"g":"20","x":3.8e-4,"y":4.18e-4},{"g":"20","x":4.5e-4,"y":5.15e-4},
{"g":"20","x":6.3e-6,"y":4.8e-6},{"g":"20","x":2.8e-6,"y":1.2e-6},{"g":"20","x":6.1e-4,"y":9e-6},
{"g":"50","x":1.0e-6,"y":1.0e-6},{"g":"50","x":1.122e-6,"y":1.13e-6},{"g":"50","x":1.259e-6,"y":1.277e-6},{"g":"50","x":1.413e-6,"y":1.443e-6},{"g":"50","x":1.585e-6,"y":1.629e-6},{"g":"50","x":1.778e-6,"y":1.84e-6},{"g":"50","x":1.995e-6,"y":2.079e-6},{"g":"50","x":2.239e-6,"y":2.35e-6},{"g":"50","x":2.512e-6,"y":2.655e-6},{"g":"50","x":2.818e-6,"y":2.998e-6},{"g":"50","x":3.162e-6,"y":3.39e-6},{"g":"50","x":3.548e-6,"y":3.828e-6},{"g":"50","x":3.981e-6,"y":4.323e-6},{"g":"50","x":4.467e-6,"y":4.887e-6},{"g":"50","x":5.012e-6,"y":5.523e-6},{"g":"50","x":5.623e-6,"y":6.236e-6},{"g":"50","x":6.31e-6,"y":7.048e-6},{"g":"50","x":7.079e-6,"y":7.964e-6},{"g":"50","x":7.943e-6,"y":8.992e-6},{"g":"50","x":8.913e-6,"y":1.016e-5},
{"g":"50","x":1e-5,"y":1.148e-5},{"g":"50","x":1.122e-5,"y":1.297e-5},{"g":"50","x":1.259e-5,"y":1.466e-5},{"g":"50","x":1.413e-5,"y":1.657e-5},{"g":"50","x":1.585e-5,"y":1.87e-5},{"g":"50","x":1.778e-5,"y":2.112e-5},{"g":"50","x":1.995e-5,"y":2.387e-5},{"g":"50","x":2.239e-5,"y":2.698e-5},{"g":"50","x":2.512e-5,"y":3.048e-5},{"g":"50","x":2.818e-5,"y":3.442e-5},{"g":"50","x":3.162e-5,"y":3.892e-5},{"g":"50","x":3.548e-5,"y":4.395e-5},{"g":"50","x":3.981e-5,"y":4.963e-5},{"g":"50","x":4.467e-5,"y":5.61e-5},{"g":"50","x":5.012e-5,"y":6.34e-5},{"g":"50","x":5.623e-5,"y":7.159e-5},{"g":"50","x":6.31e-5,"y":8.091e-5},{"g":"50","x":7.079e-5,"y":9.143e-5},{"g":"50","x":7.943e-5,"y":1.032e-4},{"g":"50","x":8.913e-5,"y":1.166e-4},
{"g":"50","x":1e-4,"y":1.318e-4},{"g":"50","x":1.122e-4,"y":1.489e-4},{"g":"50","x":1.259e-4,"y":1.683e-4},{"g":"50","x":1.413e-4,"y":1.902e-4},{"g":"50","x":1.585e-4,"y":2.147e-4},{"g":"50","x":1.778e-4,"y":2.425e-4},{"g":"50","x":1.995e-4,"y":2.74e-4},{"g":"50","x":2.239e-4,"y":3.097e-4},{"g":"50","x":2.512e-4,"y":3.499e-4},{"g":"50","x":2.818e-4,"y":3.951e-4},{"g":"50","x":3.162e-4,"y":4.468e-4},{"g":"50","x":3.548e-4,"y":5.045e-4},{"g":"50","x":3.981e-4,"y":5.698e-4},{"g":"50","x":4.467e-4,"y":6.441e-4},{"g":"50","x":5.012e-4,"y":7.279e-4},{"g":"50","x":5.623e-4,"y":8.219e-4},{"g":"50","x":6.31e-4,"y":9.289e-4},{"g":"50","x":7.079e-4,"y":1.05e-3},{"g":"50","x":7.943e-4,"y":1.185e-3},{"g":"50","x":8.913e-4,"y":1.339e-3},{"g":"50","x":1e-3,"y":1.514e-3},{"g":"50","x":1.122e-3,"y":1.711e-3},{"g":"50","x":1.17e-3,"y":1.79e-3},
{"g":"50","x":1.259e-6,"y":1.43e-6},{"g":"50","x":1.585e-6,"y":1.824e-6},{"g":"50","x":1.995e-6,"y":2.328e-6},{"g":"50","x":2.512e-6,"y":2.974e-6},{"g":"50","x":3.162e-6,"y":3.797e-6},{"g":"50","x":3.981e-6,"y":4.842e-6},{"g":"50","x":5.012e-6,"y":6.186e-6},{"g":"50","x":6.31e-6,"y":7.894e-6},{"g":"50","x":7.943e-6,"y":1.007e-5},{"g":"50","x":1e-5,"y":1.286e-5},{"g":"50","x":1.259e-5,"y":1.642e-5},{"g":"50","x":1.585e-5,"y":2.094e-5},{"g":"50","x":1.995e-5,"y":2.673e-5},{"g":"50","x":2.512e-5,"y":3.414e-5},{"g":"50","x":3.162e-5,"y":4.359e-5},{"g":"50","x":3.981e-5,"y":5.559e-5},{"g":"50","x":5.012e-5,"y":7.101e-5},{"g":"50","x":6.31e-5,"y":9.062e-5},{"g":"50","x":7.943e-5,"y":1.156e-4},{"g":"50","x":1e-4,"y":1.476e-4},{"g":"50","x":1.259e-4,"y":1.885e-4},{"g":"50","x":1.585e-4,"y":2.405e-4},{"g":"50","x":1.995e-4,"y":3.069e-4},{"g":"50","x":2.512e-4,"y":3.919e-4},{"g":"50","x":3.162e-4,"y":5.004e-4},{"g":"50","x":3.981e-4,"y":6.382e-4},{"g":"50","x":5.012e-4,"y":8.152e-4},
{"g":"50","x":1.6e-6,"y":1.02e-6},{"g":"50","x":1.9e-6,"y":1.224e-6},{"g":"50","x":2.5e-6,"y":1.638e-6},{"g":"50","x":3e-6,"y":1.987e-6},{"g":"50","x":4e-6,"y":2.695e-6},{"g":"50","x":4.7e-6,"y":3.197e-6},{"g":"50","x":6.3e-6,"y":4.363e-6},{"g":"50","x":7.5e-6,"y":5.25e-6},{"g":"50","x":1e-5,"y":7.12e-6},{"g":"50","x":1.2e-5,"y":8.64e-6},{"g":"50","x":1.6e-5,"y":1.172e-5},{"g":"50","x":1.9e-5,"y":1.405e-5},{"g":"50","x":2.5e-5,"y":1.88e-5},{"g":"50","x":3e-5,"y":2.28e-5},{"g":"50","x":4e-5,"y":3.095e-5},{"g":"50","x":4.7e-5,"y":3.672e-5},{"g":"50","x":6.3e-5,"y":5.008e-5},{"g":"50","x":7.5e-5,"y":6.026e-5},{"g":"50","x":1e-4,"y":8.17e-5},{"g":"50","x":1.2e-4,"y":9.92e-5},
{"g":"50","x":5.1e-4,"y":6.7e-6}],
"lab":[
{"p":"TL","k":"ti","t":"M\u00a0\u00a0\u00a0= 20 GeV/c²","x":1.55e-6,"y":2.2e4},{"p":"TL","k":"tr","t":"Destructive case","x":3.8e3,"y":2.2e4},
{"p":"TL","k":"ges","t":"73","x":1.03e-5,"y":4.4e3},{"p":"TL","k":"ge","t":"Ge (Edelweiss)","x":1.94e-5,"y":4.4e3},
{"p":"TL","k":"xes","t":"129","x":1.03e-5,"y":420},{"p":"TL","k":"xe","t":"Xe (ZEPLIN1)","x":2.59e-5,"y":420},
{"p":"TL","k":"als","t":"27","x":1.03e-5,"y":8.5},{"p":"TL","k":"al","t":"Al (CRESST)","x":1.94e-5,"y":8.5},
{"p":"TL","k":"sk","t":"Super-K","x":5.2e-3,"y":0.028},{"p":"TL","k":"he","t":"MIMAC-He3","x":5.2e-4,"y":6.5e-3},{"p":"TL","k":"ds","t":"DarkSUSY models","x":1.26e-3,"y":8.9e-6},
{"p":"TR","k":"ti","t":"Mᵪ= 20 GeV/c²","x":1.48e-6,"y":2.2e4},{"p":"TR","k":"tr","t":"Constructive case","x":627,"y":2.2e4},
{"p":"TR","k":"ges","t":"73","x":1.02e-5,"y":4.4e3},{"p":"TR","k":"ge","t":"Ge (Edelweiss)","x":1.85e-5,"y":4.4e3},
{"p":"TR","k":"xes","t":"129","x":1.02e-5,"y":298},{"p":"TR","k":"xe","t":"Xe (ZEPLIN1)","x":2.47e-5,"y":298},
{"p":"TR","k":"als","t":"27","x":1.02e-5,"y":8.5},{"p":"TR","k":"al","t":"Al (CRESST)","x":1.85e-5,"y":8.5},
{"p":"TR","k":"sk","t":"Super-K","x":5.16e-3,"y":0.028},{"p":"TR","k":"he","t":"MIMAC-He3","x":5.0e-4,"y":6.5e-3},{"p":"TR","k":"ds","t":"DarkSUSY models","x":1.2e-3,"y":8.95e-6},
{"p":"BL","k":"ti","t":"Mᵪ= 50 GeV/c²","x":1.55e-6,"y":1983},{"p":"BL","k":"tr","t":"Destructive case","x":206,"y":1983},
{"p":"BL","k":"ges","t":"73","x":1.01e-5,"y":392},{"p":"BL","k":"ge","t":"Ge (Edelweiss)","x":1.78e-5,"y":392},
{"p":"BL","k":"xes","t":"129","x":1.01e-5,"y":65.2},{"p":"BL","k":"xe","t":"Xe (ZEPLIN1)","x":2.31e-5,"y":65.2},
{"p":"BL","k":"als","t":"27","x":1.01e-5,"y":7.96},{"p":"BL","k":"al","t":"Al (CRESST)","x":1.78e-5,"y":7.96},
{"p":"BL","k":"sk","t":"Super-K","x":4.93e-3,"y":0.0258},{"p":"BL","k":"he","t":"MIMAC-He3","x":4.89e-4,"y":6.3e-3},{"p":"BL","k":"ds","t":"DarkSUSY models","x":1.22e-3,"y":8.9e-6},
{"p":"BR","k":"ti","t":"Mᵪ= 50 GeV/c²","x":1.55e-6,"y":1983},{"p":"BR","k":"tr","t":"Constructive case","x":333,"y":1983},
{"p":"BR","k":"ges","t":"73","x":1.01e-5,"y":392},{"p":"BR","k":"ge","t":"Ge (Edelweiss)","x":1.78e-5,"y":392},
{"p":"BR","k":"xes","t":"129","x":1.01e-5,"y":57},{"p":"BR","k":"xe","t":"Xe (ZEPLIN1)","x":2.31e-5,"y":57},
{"p":"BR","k":"als","t":"27","x":1.01e-5,"y":7.96},{"p":"BR","k":"al","t":"Al (CRESST)","x":1.78e-5,"y":7.96},
{"p":"BR","k":"sk","t":"Super-K","x":4.93e-3,"y":0.0258},{"p":"BR","k":"he","t":"MIMAC-He3","x":2.43e-4,"y":6.3e-3},{"p":"BR","k":"ds","t":"DarkSUSY models","x":1.22e-3,"y":8.9e-6}]
},
"columns":2,
"spacing":{"row":87,"column":82},
"bounds":"flush",
"concat":[
{"width":475,"height":472,
"encoding":{
"x":{"field":"x","type":"quantitative","scale":{"type":"log","domain":[1e-6,1e4],"nice":false},"axis":{"values":[1e-6,2e-6,3e-6,4e-6,5e-6,6e-6,7e-6,8e-6,9e-6,1e-5,2e-5,3e-5,4e-5,5e-5,6e-5,7e-5,8e-5,9e-5,1e-4,2e-4,3e-4,4e-4,5e-4,6e-4,7e-4,8e-4,9e-4,1e-3,2e-3,3e-3,4e-3,5e-3,6e-3,7e-3,8e-3,9e-3,0.01,0.02,0.03,0.04,0.05,0.06,0.07,0.08,0.09,0.1,0.2,0.3,0.4,0.5,0.6,0.7,0.8,0.9,1,2,3,4,5,6,7,8,9,10,20,30,40,50,60,70,80,90,100,200,300,400,500,600,700,800,900,1000,2000,3000,4000,5000,6000,7000,8000,9000,10000],"labelExpr":"abs(log(datum.value)/LN10-round(log(datum.value)/LN10))>0.01?'':['10⁻⁶','10⁻⁵','10⁻⁴','10⁻³','10⁻²','10⁻¹','1','10','10²','10³','10⁴'][round(log(datum.value)/LN10)+6]","tickSize":{"condition":{"test":"abs(log(datum.value)/LN10-round(log(datum.value)/LN10))<0.01","value":-10},"value":-5},"labelPadding":19,"title":"σₙ (pb)","titleAnchor":"end","titleAlign":"right","titleX":477,"titleY":42,"titleBaseline":"alphabetic"}},
"y":{"field":"y","type":"quantitative","scale":{"type":"log","domain":[1e-6,1e4],"nice":false},"axis":{"values":[1e-6,2e-6,3e-6,4e-6,5e-6,6e-6,7e-6,8e-6,9e-6,1e-5,2e-5,3e-5,4e-5,5e-5,6e-5,7e-5,8e-5,9e-5,1e-4,2e-4,3e-4,4e-4,5e-4,6e-4,7e-4,8e-4,9e-4,1e-3,2e-3,3e-3,4e-3,5e-3,6e-3,7e-3,8e-3,9e-3,0.01,0.02,0.03,0.04,0.05,0.06,0.07,0.08,0.09,0.1,0.2,0.3,0.4,0.5,0.6,0.7,0.8,0.9,1,2,3,4,5,6,7,8,9,10,20,30,40,50,60,70,80,90,100,200,300,400,500,600,700,800,900,1000,2000,3000,4000,5000,6000,7000,8000,9000,10000],"labelExpr":"abs(log(datum.value)/LN10-round(log(datum.value)/LN10))>0.01?'':['10⁻⁶','10⁻⁵','10⁻⁴','10⁻³','10⁻²','10⁻¹','1','10','10²','10³','10⁴'][round(log(datum.value)/LN10)+6]","tickSize":{"condition":{"test":"abs(log(datum.value)/LN10-round(log(datum.value)/LN10))<0.01","value":-10},"value":-5},"labelPadding":12,"title":"σₚ (pb)","titleAnchor":"end","titleAlign":"right","titleAngle":-90,"titleX":-33,"titleY":-3,"titleBaseline":"alphabetic"}}},
"layer":[
{"data":{"name":"shade"},"transform":[{"filter":"datum.p=='TL'"}],"mark":"rect","encoding":{"x2":{"field":"x2"},"y2":{"field":"y2"},"fill":{"field":"s","type":"nominal","scale":{"domain":["dark","mid","light","white"],"range":["#8c8c8c","#b3b3b3","#e5e5e5","#ffffff"]},"legend":null}}},
{"data":{"name":"band"},"transform":[{"filter":"datum.p=='TL'"}],"mark":{"type":"area","orient":"horizontal","clip":true},"encoding":{"x2":{"field":"x2"},"fill":{"field":"s","type":"nominal","legend":null}}},
{"data":{"name":"curve"},"transform":[{"filter":"datum.p=='TL'"}],"mark":{"type":"line","clip":true},"encoding":{"detail":{"field":"b"},"stroke":{"field":"c","type":"nominal","scale":{"domain":["ge","xe","al","he","sk","skd"],"range":["#1b8a3d","#f8e800","#2d5aa6","#ee3b3b","#000000","#000000"]},"legend":null},"strokeDash":{"field":"c","type":"nominal","scale":{"domain":["ge","xe","al","he","sk","skd"],"range":[[5,3],[1,0],[1.5,1.5],[1,0],[1,0],[1.5,2]]},"legend":null},"strokeWidth":{"field":"c","type":"ordinal","scale":{"domain":["ge","xe","al","he","sk","skd"],"range":[2.5,2.2,1.6,2,2.5,1.3]},"legend":null}}},
{"data":{"name":"pts"},"transform":[{"filter":"datum.g=='20'"}],"mark":{"type":"circle","size":16,"color":"#000000","opacity":1}},
{"data":{"name":"lab"},"transform":[{"filter":"datum.p=='TL' && (datum.k=='ge' || datum.k=='xe' || datum.k=='al' || datum.k=='he')"}],"mark":{"type":"text","align":"left","baseline":"middle","font":"Liberation Serif","fontWeight":"bold","fontSize":19},"encoding":{"text":{"field":"t"},"color":{"field":"k","type":"nominal","scale":{"domain":["ge","xe","al","he","ges","xes","als"],"range":["#1c8a3f","#f5e400","#2a539c","#e8383d","#1c8a3f","#f5e400","#2a539c"]},"legend":null}}},
{"data":{"name":"lab"},"transform":[{"filter":"datum.p=='TL' && (datum.k=='ges' || datum.k=='xes' || datum.k=='als')"}],"mark":{"type":"text","align":"left","baseline":"middle","dy":-7,"font":"Liberation Serif","fontWeight":"bold","fontSize":12},"encoding":{"text":{"field":"t"},"color":{"field":"k","type":"nominal","scale":{"domain":["ge","xe","al","he","ges","xes","als"],"range":["#1c8a3f","#f5e400","#2a539c","#e8383d","#1c8a3f","#f5e400","#2a539c"]},"legend":null}}},
{"data":{"name":"lab"},"transform":[{"filter":"datum.p=='TL' && datum.k=='sk'"}],"mark":{"type":"text","align":"left","baseline":"middle","font":"Liberation Serif","fontWeight":"bold","fontSize":20,"color":"#000000"},"encoding":{"text":{"field":"t"}}},
{"data":{"name":"lab"},"transform":[{"filter":"datum.p=='TL' && datum.k=='ds'"}],"mark":{"type":"text","align":"left","baseline":"middle","font":"Liberation Serif","fontWeight":"bold","fontSize":17.5,"color":"#000000"},"encoding":{"text":{"field":"t"}}},
{"data":{"name":"lab"},"transform":[{"filter":"datum.p=='TL' && datum.k=='ti'"}],"mark":{"type":"text","align":"left","baseline":"middle","font":"Liberation Serif","fontWeight":"bold","fontSize":18.5,"color":"#000000"},"encoding":{"text":{"field":"t"}}},
{"data":{"name":"lab"},"transform":[{"filter":"datum.p=='TL' && datum.k=='tr'"}],"mark":{"type":"text","align":"right","baseline":"middle","font":"Liberation Serif","fontWeight":"bold","fontSize":18,"color":"#000000"},"encoding":{"text":{"field":"t"}}}
]},
{"width":475,"height":472,
"encoding":{
"x":{"field":"x","type":"quantitative","scale":{"type":"log","domain":[1e-6,1e4],"nice":false},"axis":{"values":[1e-6,2e-6,3e-6,4e-6,5e-6,6e-6,7e-6,8e-6,9e-6,1e-5,2e-5,3e-5,4e-5,5e-5,6e-5,7e-5,8e-5,9e-5,1e-4,2e-4,3e-4,4e-4,5e-4,6e-4,7e-4,8e-4,9e-4,1e-3,2e-3,3e-3,4e-3,5e-3,6e-3,7e-3,8e-3,9e-3,0.01,0.02,0.03,0.04,0.05,0.06,0.07,0.08,0.09,0.1,0.2,0.3,0.4,0.5,0.6,0.7,0.8,0.9,1,2,3,4,5,6,7,8,9,10,20,30,40,50,60,70,80,90,100,200,300,400,500,600,700,800,900,1000,2000,3000,4000,5000,6000,7000,8000,9000,10000],"labelExpr":"abs(log(datum.value)/LN10-round(log(datum.value)/LN10))>0.01?'':['10⁻⁶','10⁻⁵','10⁻⁴','10⁻³','10⁻²','10⁻¹','1','10','10²','10³','10⁴'][round(log(datum.value)/LN10)+6]","tickSize":{"condition":{"test":"abs(log(datum.value)/LN10-round(log(datum.value)/LN10))<0.01","value":-10},"value":-5},"labelPadding":19,"title":"σₙ (pb)","titleAnchor":"end","titleAlign":"right","titleX":477,"titleY":42,"titleBaseline":"alphabetic"}},
"y":{"field":"y","type":"quantitative","scale":{"type":"log","domain":[1e-6,1e4],"nice":false},"axis":{"values":[1e-6,2e-6,3e-6,4e-6,5e-6,6e-6,7e-6,8e-6,9e-6,1e-5,2e-5,3e-5,4e-5,5e-5,6e-5,7e-5,8e-5,9e-5,1e-4,2e-4,3e-4,4e-4,5e-4,6e-4,7e-4,8e-4,9e-4,1e-3,2e-3,3e-3,4e-3,5e-3,6e-3,7e-3,8e-3,9e-3,0.01,0.02,0.03,0.04,0.05,0.06,0.07,0.08,0.09,0.1,0.2,0.3,0.4,0.5,0.6,0.7,0.8,0.9,1,2,3,4,5,6,7,8,9,10,20,30,40,50,60,70,80,90,100,200,300,400,500,600,700,800,900,1000,2000,3000,4000,5000,6000,7000,8000,9000,10000],"labelExpr":"abs(log(datum.value)/LN10-round(log(datum.value)/LN10))>0.01?'':['10⁻⁶','10⁻⁵','10⁻⁴','10⁻³','10⁻²','10⁻¹','1','10','10²','10³','10⁴'][round(log(datum.value)/LN10)+6]","tickSize":{"condition":{"test":"abs(log(datum.value)/LN10-round(log(datum.value)/LN10))<0.01","value":-10},"value":-5},"labelPadding":12,"title":"σₚ (pb)","titleAnchor":"end","titleAlign":"right","titleAngle":-90,"titleX":-33,"titleY":-3,"titleBaseline":"alphabetic"}}},
"layer":[
{"data":{"name":"shade"},"transform":[{"filter":"datum.p=='TR'"}],"mark":"rect","encoding":{"x2":{"field":"x2"},"y2":{"field":"y2"},"fill":{"field":"s","type":"nominal","scale":{"domain":["dark","mid","light","white"],"range":["#8c8c8c","#b3b3b3","#e5e5e5","#ffffff"]},"legend":null}}},
{"data":{"name":"band"},"transform":[{"filter":"datum.p=='TR'"}],"mark":{"type":"area","orient":"horizontal","clip":true},"encoding":{"x2":{"field":"x2"},"fill":{"field":"s","type":"nominal","legend":null}}},
{"data":{"name":"curve"},"transform":[{"filter":"datum.p=='TR'"}],"mark":{"type":"line","clip":true},"encoding":{"detail":{"field":"b"},"stroke":{"field":"c","type":"nominal","scale":{"domain":["ge","xe","al","he","sk","skd"],"range":["#1b8a3d","#f8e800","#2d5aa6","#ee3b3b","#000000","#000000"]},"legend":null},"strokeDash":{"field":"c","type":"nominal","scale":{"domain":["ge","xe","al","he","sk","skd"],"range":[[5,3],[1,0],[1.5,1.5],[1,0],[1,0],[1.5,2]]},"legend":null},"strokeWidth":{"field":"c","type":"ordinal","scale":{"domain":["ge","xe","al","he","sk","skd"],"range":[2.5,2.2,1.6,2,2.5,1.3]},"legend":null}}},
{"data":{"name":"pts"},"transform":[{"filter":"datum.g=='20'"}],"mark":{"type":"circle","size":16,"color":"#000000","opacity":1}},
{"data":{"name":"lab"},"transform":[{"filter":"datum.p=='TR' && (datum.k=='ge' || datum.k=='xe' || datum.k=='al' || datum.k=='he')"}],"mark":{"type":"text","align":"left","baseline":"middle","font":"Liberation Serif","fontWeight":"bold","fontSize":19},"encoding":{"text":{"field":"t"},"color":{"field":"k","type":"nominal","scale":{"domain":["ge","xe","al","he","ges","xes","als"],"range":["#1c8a3f","#f5e400","#2a539c","#e8383d","#1c8a3f","#f5e400","#2a539c"]},"legend":null}}},
{"data":{"name":"lab"},"transform":[{"filter":"datum.p=='TR' && (datum.k=='ges' || datum.k=='xes' || datum.k=='als')"}],"mark":{"type":"text","align":"left","baseline":"middle","dy":-7,"font":"Liberation Serif","fontWeight":"bold","fontSize":12},"encoding":{"text":{"field":"t"},"color":{"field":"k","type":"nominal","scale":{"domain":["ge","xe","al","he","ges","xes","als"],"range":["#1c8a3f","#f5e400","#2a539c","#e8383d","#1c8a3f","#f5e400","#2a539c"]},"legend":null}}},
{"data":{"name":"lab"},"transform":[{"filter":"datum.p=='TR' && datum.k=='sk'"}],"mark":{"type":"text","align":"left","baseline":"middle","font":"Liberation Serif","fontWeight":"bold","fontSize":20,"color":"#000000"},"encoding":{"text":{"field":"t"}}},
{"data":{"name":"lab"},"transform":[{"filter":"datum.p=='TR' && datum.k=='ds'"}],"mark":{"type":"text","align":"left","baseline":"middle","font":"Liberation Serif","fontWeight":"bold","fontSize":17.5,"color":"#000000"},"encoding":{"text":{"field":"t"}}},
{"data":{"name":"lab"},"transform":[{"filter":"datum.p=='TR' && datum.k=='ti'"}],"mark":{"type":"text","align":"left","baseline":"middle","font":"Liberation Serif","fontWeight":"bold","fontSize":18.5,"color":"#000000"},"encoding":{"text":{"field":"t"}}},
{"data":{"name":"lab"},"transform":[{"filter":"datum.p=='TR' && datum.k=='tr'"}],"mark":{"type":"text","align":"right","baseline":"middle","font":"Liberation Serif","fontWeight":"bold","fontSize":18,"color":"#000000"},"encoding":{"text":{"field":"t"}}}
]},
{"width":475,"height":473,
"encoding":{
"x":{"field":"x","type":"quantitative","scale":{"type":"log","domain":[1e-6,1e3],"nice":false},"axis":{"values":[1e-6,2e-6,3e-6,4e-6,5e-6,6e-6,7e-6,8e-6,9e-6,1e-5,2e-5,3e-5,4e-5,5e-5,6e-5,7e-5,8e-5,9e-5,1e-4,2e-4,3e-4,4e-4,5e-4,6e-4,7e-4,8e-4,9e-4,1e-3,2e-3,3e-3,4e-3,5e-3,6e-3,7e-3,8e-3,9e-3,0.01,0.02,0.03,0.04,0.05,0.06,0.07,0.08,0.09,0.1,0.2,0.3,0.4,0.5,0.6,0.7,0.8,0.9,1,2,3,4,5,6,7,8,9,10,20,30,40,50,60,70,80,90,100,200,300,400,500,600,700,800,900,1000],"labelExpr":"abs(log(datum.value)/LN10-round(log(datum.value)/LN10))>0.01?'':['10⁻⁶','10⁻⁵','10⁻⁴','10⁻³','10⁻²','10⁻¹','1','10','10²','',''][round(log(datum.value)/LN10)+6]","tickSize":{"condition":{"test":"abs(log(datum.value)/LN10-round(log(datum.value)/LN10))<0.01","value":-10},"value":-5},"labelPadding":19,"title":"σₙ (pb)","titleAnchor":"end","titleAlign":"right","titleX":478,"titleY":42,"titleBaseline":"alphabetic"}},
"y":{"field":"y","type":"quantitative","scale":{"type":"log","domain":[1e-6,1e3],"nice":false},"axis":{"values":[1e-6,2e-6,3e-6,4e-6,5e-6,6e-6,7e-6,8e-6,9e-6,1e-5,2e-5,3e-5,4e-5,5e-5,6e-5,7e-5,8e-5,9e-5,1e-4,2e-4,3e-4,4e-4,5e-4,6e-4,7e-4,8e-4,9e-4,1e-3,2e-3,3e-3,4e-3,5e-3,6e-3,7e-3,8e-3,9e-3,0.01,0.02,0.03,0.04,0.05,0.06,0.07,0.08,0.09,0.1,0.2,0.3,0.4,0.5,0.6,0.7,0.8,0.9,1,2,3,4,5,6,7,8,9,10,20,30,40,50,60,70,80,90,100,200,300,400,500,600,700,800,900,1000],"labelExpr":"abs(log(datum.value)/LN10-round(log(datum.value)/LN10))>0.01?'':['10⁻⁶','10⁻⁵','10⁻⁴','10⁻³','10⁻²','10⁻¹','1','10','10²','',''][round(log(datum.value)/LN10)+6]","tickSize":{"condition":{"test":"abs(log(datum.value)/LN10-round(log(datum.value)/LN10))<0.01","value":-10},"value":-5},"labelPadding":12,"title":"σₚ (pb)","titleAnchor":"end","titleAlign":"right","titleAngle":-90,"titleX":-33,"titleY":-3,"titleBaseline":"alphabetic"}}},
"layer":[
{"data":{"name":"shade"},"transform":[{"filter":"datum.p=='BL'"}],"mark":"rect","encoding":{"x2":{"field":"x2"},"y2":{"field":"y2"},"fill":{"field":"s","type":"nominal","scale":{"domain":["dark","mid","light","white"],"range":["#8c8c8c","#b3b3b3","#e5e5e5","#ffffff"]},"legend":null}}},
{"data":{"name":"band"},"transform":[{"filter":"datum.p=='BL'"}],"mark":{"type":"area","orient":"horizontal","clip":true},"encoding":{"x2":{"field":"x2"},"fill":{"field":"s","type":"nominal","legend":null}}},
{"data":{"name":"curve"},"transform":[{"filter":"datum.p=='BL'"}],"mark":{"type":"line","clip":true},"encoding":{"detail":{"field":"b"},"stroke":{"field":"c","type":"nominal","scale":{"domain":["ge","xe","al","he","sk","skd"],"range":["#1b8a3d","#f8e800","#2d5aa6","#ee3b3b","#000000","#000000"]},"legend":null},"strokeDash":{"field":"c","type":"nominal","scale":{"domain":["ge","xe","al","he","sk","skd"],"range":[[5,3],[1,0],[1.5,1.5],[1,0],[1,0],[1.5,2]]},"legend":null},"strokeWidth":{"field":"c","type":"ordinal","scale":{"domain":["ge","xe","al","he","sk","skd"],"range":[2.5,2.2,1.6,2,2.5,1.3]},"legend":null}}},
{"data":{"name":"pts"},"transform":[{"filter":"datum.g=='50'"}],"mark":{"type":"circle","size":24,"color":"#000000","opacity":1}},
{"data":{"name":"lab"},"transform":[{"filter":"datum.p=='BL' && (datum.k=='ge' || datum.k=='xe' || datum.k=='al' || datum.k=='he')"}],"mark":{"type":"text","align":"left","baseline":"middle","font":"Liberation Serif","fontWeight":"bold","fontSize":19},"encoding":{"text":{"field":"t"},"color":{"field":"k","type":"nominal","scale":{"domain":["ge","xe","al","he","ges","xes","als"],"range":["#1c8a3f","#f5e400","#2a539c","#e8383d","#1c8a3f","#f5e400","#2a539c"]},"legend":null}}},
{"data":{"name":"lab"},"transform":[{"filter":"datum.p=='BL' && (datum.k=='ges' || datum.k=='xes' || datum.k=='als')"}],"mark":{"type":"text","align":"left","baseline":"middle","dy":-7,"font":"Liberation Serif","fontWeight":"bold","fontSize":12},"encoding":{"text":{"field":"t"},"color":{"field":"k","type":"nominal","scale":{"domain":["ge","xe","al","he","ges","xes","als"],"range":["#1c8a3f","#f5e400","#2a539c","#e8383d","#1c8a3f","#f5e400","#2a539c"]},"legend":null}}},
{"data":{"name":"lab"},"transform":[{"filter":"datum.p=='BL' && datum.k=='sk'"}],"mark":{"type":"text","align":"left","baseline":"middle","font":"Liberation Serif","fontWeight":"bold","fontSize":20,"color":"#000000"},"encoding":{"text":{"field":"t"}}},
{"data":{"name":"lab"},"transform":[{"filter":"datum.p=='BL' && datum.k=='ds'"}],"mark":{"type":"text","align":"left","baseline":"middle","font":"Liberation Serif","fontWeight":"bold","fontSize":17.5,"color":"#000000"},"encoding":{"text":{"field":"t"}}},
{"data":{"name":"lab"},"transform":[{"filter":"datum.p=='BL' && datum.k=='ti'"}],"mark":{"type":"text","align":"left","baseline":"middle","font":"Liberation Serif","fontWeight":"bold","fontSize":18.5,"color":"#000000"},"encoding":{"text":{"field":"t"}}},
{"data":{"name":"lab"},"transform":[{"filter":"datum.p=='BL' && datum.k=='tr'"}],"mark":{"type":"text","align":"right","baseline":"middle","font":"Liberation Serif","fontWeight":"bold","fontSize":18,"color":"#000000"},"encoding":{"text":{"field":"t"}}}
]},
{"width":475,"height":473,
"encoding":{
"x":{"field":"x","type":"quantitative","scale":{"type":"log","domain":[1e-6,1e3],"nice":false},"axis":{"values":[1e-6,2e-6,3e-6,4e-6,5e-6,6e-6,7e-6,8e-6,9e-6,1e-5,2e-5,3e-5,4e-5,5e-5,6e-5,7e-5,8e-5,9e-5,1e-4,2e-4,3e-4,4e-4,5e-4,6e-4,7e-4,8e-4,9e-4,1e-3,2e-3,3e-3,4e-3,5e-3,6e-3,7e-3,8e-3,9e-3,0.01,0.02,0.03,0.04,0.05,0.06,0.07,0.08,0.09,0.1,0.2,0.3,0.4,0.5,0.6,0.7,0.8,0.9,1,2,3,4,5,6,7,8,9,10,20,30,40,50,60,70,80,90,100,200,300,400,500,600,700,800,900,1000],"labelExpr":"abs(log(datum.value)/LN10-round(log(datum.value)/LN10))>0.01?'':['10⁻⁶','10⁻⁵','10⁻⁴','10⁻³','10⁻²','10⁻¹','1','10','10²','',''][round(log(datum.value)/LN10)+6]","tickSize":{"condition":{"test":"abs(log(datum.value)/LN10-round(log(datum.value)/LN10))<0.01","value":-10},"value":-5},"labelPadding":19,"title":"σₙ (pb)","titleAnchor":"end","titleAlign":"right","titleX":478,"titleY":42,"titleBaseline":"alphabetic"}},
"y":{"field":"y","type":"quantitative","scale":{"type":"log","domain":[1e-6,1e3],"nice":false},"axis":{"values":[1e-6,2e-6,3e-6,4e-6,5e-6,6e-6,7e-6,8e-6,9e-6,1e-5,2e-5,3e-5,4e-5,5e-5,6e-5,7e-5,8e-5,9e-5,1e-4,2e-4,3e-4,4e-4,5e-4,6e-4,7e-4,8e-4,9e-4,1e-3,2e-3,3e-3,4e-3,5e-3,6e-3,7e-3,8e-3,9e-3,0.01,0.02,0.03,0.04,0.05,0.06,0.07,0.08,0.09,0.1,0.2,0.3,0.4,0.5,0.6,0.7,0.8,0.9,1,2,3,4,5,6,7,8,9,10,20,30,40,50,60,70,80,90,100,200,300,400,500,600,700,800,900,1000],"labelExpr":"abs(log(datum.value)/LN10-round(log(datum.value)/LN10))>0.01?'':['10⁻⁶','10⁻⁵','10⁻⁴','10⁻³','10⁻²','10⁻¹','1','10','10²','',''][round(log(datum.value)/LN10)+6]","tickSize":{"condition":{"test":"abs(log(datum.value)/LN10-round(log(datum.value)/LN10))<0.01","value":-10},"value":-5},"labelPadding":12,"title":"σₚ (pb)","titleAnchor":"end","titleAlign":"right","titleAngle":-90,"titleX":-33,"titleY":-3,"titleBaseline":"alphabetic"}}},
"layer":[
{"data":{"name":"shade"},"transform":[{"filter":"datum.p=='BR'"}],"mark":"rect","encoding":{"x2":{"field":"x2"},"y2":{"field":"y2"},"fill":{"field":"s","type":"nominal","scale":{"domain":["dark","mid","light","white"],"range":["#8c8c8c","#b3b3b3","#e5e5e5","#ffffff"]},"legend":null}}},
{"data":{"name":"band"},"transform":[{"filter":"datum.p=='BR'"}],"mark":{"type":"area","orient":"horizontal","clip":true},"encoding":{"x2":{"field":"x2"},"fill":{"field":"s","type":"nominal","legend":null}}},
{"data":{"name":"curve"},"transform":[{"filter":"datum.p=='BR'"}],"mark":{"type":"line","clip":true},"encoding":{"detail":{"field":"b"},"stroke":{"field":"c","type":"nominal","scale":{"domain":["ge","xe","al","he","sk","skd"],"range":["#1b8a3d","#f8e800","#2d5aa6","#ee3b3b","#000000","#000000"]},"legend":null},"strokeDash":{"field":"c","type":"nominal","scale":{"domain":["ge","xe","al","he","sk","skd"],"range":[[5,3],[1,0],[1.5,1.5],[1,0],[1,0],[1.5,2]]},"legend":null},"strokeWidth":{"field":"c","type":"ordinal","scale":{"domain":["ge","xe","al","he","sk","skd"],"range":[2.5,2.2,1.6,2,2.5,1.3]},"legend":null}}},
{"data":{"name":"pts"},"transform":[{"filter":"datum.g=='50'"}],"mark":{"type":"circle","size":24,"color":"#000000","opacity":1}},
{"data":{"name":"lab"},"transform":[{"filter":"datum.p=='BR' && (datum.k=='ge' || datum.k=='xe' || datum.k=='al' || datum.k=='he')"}],"mark":{"type":"text","align":"left","baseline":"middle","font":"Liberation Serif","fontWeight":"bold","fontSize":19},"encoding":{"text":{"field":"t"},"color":{"field":"k","type":"nominal","scale":{"domain":["ge","xe","al","he","ges","xes","als"],"range":["#1c8a3f","#f5e400","#2a539c","#e8383d","#1c8a3f","#f5e400","#2a539c"]},"legend":null}}},
{"data":{"name":"lab"},"transform":[{"filter":"datum.p=='BR' && (datum.k=='ges' || datum.k=='xes' || datum.k=='als')"}],"mark":{"type":"text","align":"left","baseline":"middle","dy":-7,"font":"Liberation Serif","fontWeight":"bold","fontSize":12},"encoding":{"text":{"field":"t"},"color":{"field":"k","type":"nominal","scale":{"domain":["ge","xe","al","he","ges","xes","als"],"range":["#1c8a3f","#f5e400","#2a539c","#e8383d","#1c8a3f","#f5e400","#2a539c"]},"legend":null}}},
{"data":{"name":"lab"},"transform":[{"filter":"datum.p=='BR' && datum.k=='sk'"}],"mark":{"type":"text","align":"left","baseline":"middle","font":"Liberation Serif","fontWeight":"bold","fontSize":20,"color":"#000000"},"encoding":{"text":{"field":"t"}}},
{"data":{"name":"lab"},"transform":[{"filter":"datum.p=='BR' && datum.k=='ds'"}],"mark":{"type":"text","align":"left","baseline":"middle","font":"Liberation Serif","fontWeight":"bold","fontSize":17.5,"color":"#000000"},"encoding":{"text":{"field":"t"}}},
{"data":{"name":"lab"},"transform":[{"filter":"datum.p=='BR' && datum.k=='ti'"}],"mark":{"type":"text","align":"left","baseline":"middle","font":"Liberation Serif","fontWeight":"bold","fontSize":18.5,"color":"#000000"},"encoding":{"text":{"field":"t"}}},
{"data":{"name":"lab"},"transform":[{"filter":"datum.p=='BR' && datum.k=='tr'"}],"mark":{"type":"text","align":"right","baseline":"middle","font":"Liberation Serif","fontWeight":"bold","fontSize":18,"color":"#000000"},"encoding":{"text":{"field":"t"}}}
]}
]
}
